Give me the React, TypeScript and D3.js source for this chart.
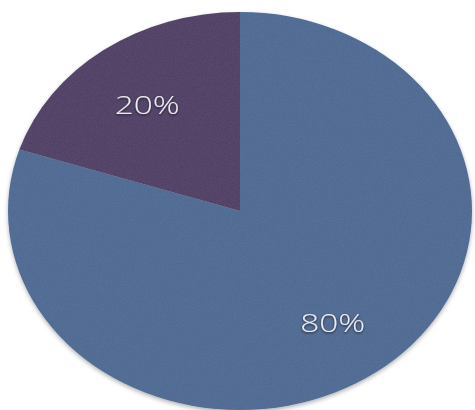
import React from "react";
import * as d3 from "d3";

const categories = ["A", "B"];
const values = [80, 20];
const labels = ["80%", "20%"];
const colors = ["#4a6893", "#4b3964"];

const W = 475;
const H = 410;

export default function App() {
  const cx = 240;
  const cy = 211;
  const rx = 232;
  const ry = 199;
  const sy = ry / rx;

  const pie = d3.pie<number>().sort(null).value((d) => d)(values);
  const arc = d3.arc<d3.PieArcDatum<number>>().innerRadius(0).outerRadius(rx);
  const labelArc = d3.arc<d3.PieArcDatum<number>>().innerRadius(rx * 0.68).outerRadius(rx * 0.68);

  return (
    <svg
      width={W}
      height={H}
      style={{ position: "absolute", left: 0, top: 0, background: "#ffffff" }}
    >
      <defs>
        <filter id="noise" x="0" y="0" width="100%" height="100%">
          <feTurbulence type="fractalNoise" baseFrequency="0.9" numOctaves="2" seed="3" result="t" />
          <feColorMatrix type="saturate" values="0" in="t" result="g" />
          <feComponentTransfer in="g" result="g2">
            <feFuncA type="linear" slope="0" intercept="0.05" />
          </feComponentTransfer>
          <feComposite in="g2" in2="SourceGraphic" operator="in" result="n" />
          <feMerge>
            <feMergeNode in="SourceGraphic" />
            <feMergeNode in="n" />
          </feMerge>
        </filter>
        <filter id="shadow" x="-10%" y="-10%" width="120%" height="120%">
          <feDropShadow dx="0" dy="2" stdDeviation="2" floodColor="#000" floodOpacity="0.3" />
        </filter>
        <filter id="tshadow" x="-20%" y="-20%" width="140%" height="140%">
          <feDropShadow dx="0" dy="1" stdDeviation="1" floodColor="#141422" floodOpacity="0.9" />
        </filter>
      </defs>
      <g transform={`translate(${cx},${cy})`} filter="url(#shadow)">
        <g transform={`scale(1,${sy})`} filter="url(#noise)">
          {pie.map((p, i) => (
            <path key={categories[i]} d={arc(p) || ""} fill={colors[i]} />
          ))}
        </g>
      </g>
      <g transform={`translate(${cx},${cy})`}>
        {pie.map((p, i) => {
          const [x, y] = labelArc.centroid(p);
          return (
            <text
              key={"l" + categories[i]}
              x={x}
              y={y * sy}
              dy={12}
              textAnchor="middle"
              fontFamily="'Open Sans', 'Liberation Sans', sans-serif"
              fontWeight={300}
              fontSize={26}
              textLength={65}
              lengthAdjust="spacingAndGlyphs"
              fill="#ececf2"
              filter="url(#tshadow)"
            >
              {labels[i]}
            </text>
          );
        })}
      </g>
    </svg>
  );
}
